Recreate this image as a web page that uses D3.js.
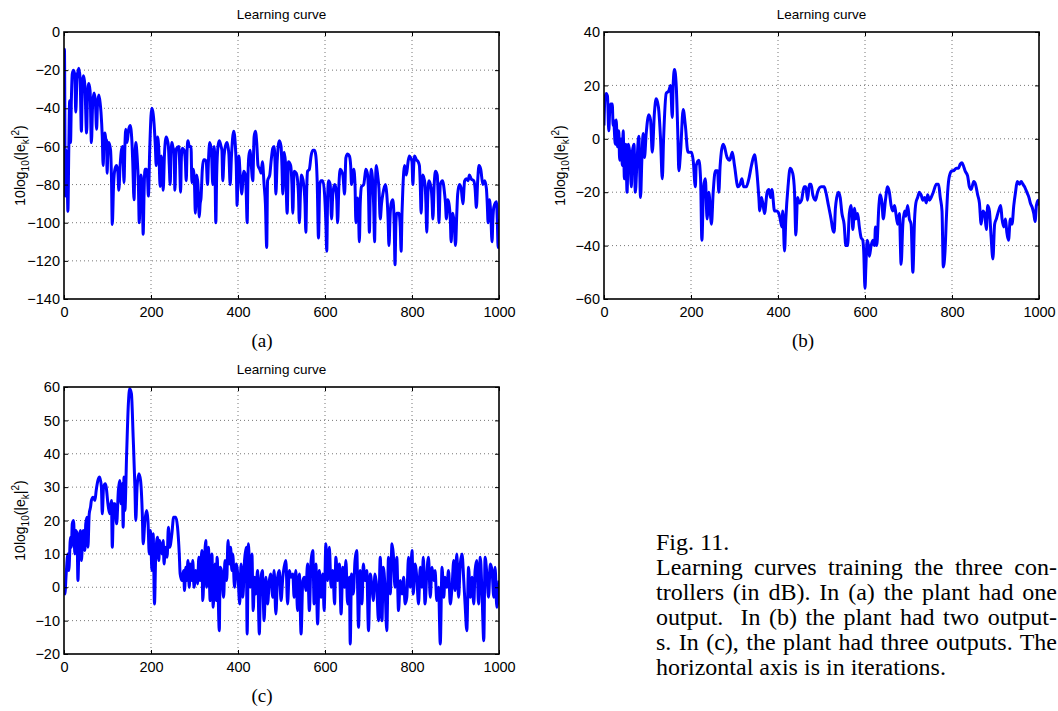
<!DOCTYPE html>
<html>
<head>
<meta charset="utf-8">
<script src="https://cdn.jsdelivr.net/npm/d3@7"></script>
<style>
    body { margin: 0; background: #fff; }
    svg { display: block; }
</style>
</head>
<body>
<div id="chart"></div>
<script>
// Learning curve data, [iteration, dB]
const curveA = [[0,-60],[1,-9],[3,-86],[5,-62],[7,-72],[9,-94],[11,-62],[13,-36],[15,-58],[17,-35],[19,-22],[22,-20],[25,-23],[27,-42],[30,-24],[34,-19],[37,-24],[40,-52],[42,-30],[45,-23],[48,-28],[52,-53],[54,-34],[57,-27],[60,-31],[63,-58],[66,-37],[69,-32],[72,-36],[75,-51],[77,-38],[80,-33],[83,-37],[85,-42],[88,-55],[90,-70],[92,-58],[94,-53],[96,-56],[98,-57],[99,-74],[101,-62],[103,-58],[107,-62],[109,-75],[111,-101],[114,-80],[117,-72],[121,-70],[124,-74],[126,-83],[129,-70],[132,-62],[135,-60],[138,-79],[140,-60],[142,-51],[145,-58],[148,-52],[152,-49],[156,-57],[158,-68],[161,-88],[163,-68],[165,-58],[168,-65],[171,-80],[173,-100],[175,-85],[177,-75],[180,-85],[182,-106],[184,-85],[186,-72],[190,-72],[192,-76],[194,-86],[197,-62],[200,-44],[202,-40],[205,-43],[207,-48],[210,-60],[212,-70],[214,-58],[215,-55],[218,-62],[221,-81],[224,-65],[226,-70],[228,-83],[231,-64],[235,-55],[238,-57],[240,-60],[242,-70],[244,-80],[246,-65],[248,-58],[251,-61],[253,-62],[255,-83],[257,-65],[259,-61],[264,-60],[266,-70],[268,-84],[270,-65],[272,-61],[276,-62],[279,-68],[281,-78],[283,-62],[285,-57],[288,-60],[292,-60],[294,-79],[297,-72],[300,-80],[302,-95],[305,-75],[308,-80],[311,-97],[313,-90],[315,-87],[318,-72],[321,-67],[324,-67],[327,-68],[330,-80],[332,-68],[335,-58],[339,-63],[342,-80],[345,-60],[347,-70],[349,-100],[351,-75],[354,-60],[357,-57],[361,-60],[363,-62],[365,-78],[368,-65],[371,-60],[375,-58],[379,-64],[382,-80],[385,-65],[390,-52],[394,-60],[396,-70],[398,-91],[400,-72],[402,-65],[405,-75],[409,-85],[411,-78],[413,-73],[417,-75],[419,-85],[421,-100],[423,-75],[425,-65],[428,-62],[430,-68],[434,-78],[437,-55],[440,-52],[443,-58],[446,-70],[450,-72],[453,-74],[456,-68],[460,-80],[463,-90],[466,-113],[468,-78],[473,-75],[476,-68],[480,-61],[483,-60],[485,-68],[487,-85],[490,-68],[495,-57],[499,-60],[501,-70],[503,-85],[506,-63],[509,-68],[513,-95],[516,-68],[521,-70],[524,-80],[526,-95],[529,-73],[534,-74],[536,-76],[539,-85],[541,-100],[544,-82],[546,-75],[551,-80],[554,-90],[556,-105],[558,-82],[560,-73],[564,-72],[568,-65],[572,-62],[576,-62],[579,-65],[582,-78],[585,-108],[588,-80],[591,-78],[595,-78],[599,-85],[602,-100],[604,-115],[606,-88],[608,-78],[612,-80],[615,-98],[618,-85],[622,-80],[625,-82],[627,-88],[629,-100],[632,-80],[635,-72],[641,-75],[645,-85],[648,-66],[652,-64],[656,-65],[659,-70],[661,-80],[664,-75],[666,-72],[669,-80],[671,-100],[673,-88],[675,-87],[677,-95],[679,-110],[681,-90],[684,-81],[689,-80],[692,-75],[694,-72],[698,-75],[700,-85],[702,-105],[704,-85],[706,-72],[710,-80],[712,-92],[714,-110],[716,-80],[718,-70],[721,-75],[724,-82],[727,-98],[730,-90],[733,-85],[739,-80],[742,-85],[745,-98],[747,-112],[750,-95],[752,-90],[756,-88],[759,-100],[761,-122],[763,-100],[765,-95],[770,-95],[773,-102],[775,-115],[777,-95],[779,-82],[783,-70],[787,-75],[791,-68],[794,-65],[797,-66],[800,-68],[802,-80],[804,-70],[806,-65],[810,-67],[814,-68],[817,-70],[819,-80],[821,-95],[823,-82],[825,-75],[830,-80],[832,-90],[834,-105],[836,-88],[839,-78],[844,-82],[846,-88],[848,-98],[851,-80],[854,-73],[858,-75],[860,-85],[862,-100],[865,-80],[870,-78],[875,-85],[877,-90],[879,-98],[882,-88],[885,-90],[888,-98],[890,-110],[892,-100],[894,-95],[897,-100],[900,-112],[903,-95],[905,-85],[909,-80],[913,-82],[917,-90],[921,-78],[925,-77],[929,-78],[932,-75],[936,-77],[942,-78],[945,-82],[948,-92],[951,-78],[954,-70],[958,-72],[963,-80],[967,-78],[971,-82],[973,-90],[975,-100],[978,-88],[981,-95],[984,-110],[986,-98],[988,-92],[994,-89],[996,-98],[998,-113],[1000,-98]];

const curveB = [[0,5],[2,15],[5,17],[8,16],[11,3],[13,10],[15,13],[19,13],[21,5],[22,7],[26,-2],[28,7],[31,-3],[34,3],[36,-8],[40,0],[42,-10],[44,3],[47,-15],[50,-2],[53,-20],[56,-2],[59,-5],[63,-18],[65,-5],[69,-2],[72,-20],[76,-8],[80,1],[84,-22],[87,-8],[90,2],[93,-7],[97,2],[103,9],[107,7],[111,-5],[116,10],[120,15],[125,12],[130,0],[134,-15],[137,0],[143,17],[149,18],[153,20],[157,8],[159,20],[162,26],[166,20],[170,0],[172,-12],[176,-5],[182,11],[187,5],[193,-5],[201,-5],[205,-8],[210,-18],[212,-10],[218,-8],[222,-15],[225,-38],[229,-18],[233,-15],[237,-30],[241,-20],[247,-32],[251,-20],[256,-12],[261,-12],[264,-20],[267,-10],[274,-2],[277,-3],[283,-7],[289,-8],[295,-5],[300,-10],[308,-18],[313,-17],[317,-15],[321,-18],[327,-18],[333,-15],[339,-10],[346,-6],[350,-10],[356,-22],[358,-27],[362,-22],[365,-24],[369,-28],[375,-20],[379,-19],[383,-22],[386,-19],[392,-27],[397,-27],[402,-28],[405,-30],[409,-33],[411,-27],[415,-42],[418,-30],[423,-18],[428,-11],[434,-13],[438,-20],[441,-36],[445,-22],[449,-24],[454,-23],[460,-18],[464,-18],[468,-23],[472,-17],[476,-17],[480,-21],[486,-23],[491,-20],[499,-18],[506,-18],[510,-20],[516,-25],[522,-30],[526,-34],[529,-35],[532,-26],[535,-22],[539,-20],[543,-22],[547,-28],[552,-32],[556,-40],[560,-40],[564,-28],[568,-25],[570,-28],[572,-34],[576,-26],[579,-30],[583,-28],[587,-33],[591,-37],[595,-38],[597,-42],[600,-56],[602,-48],[605,-38],[608,-40],[610,-44],[614,-40],[618,-38],[622,-40],[624,-33],[627,-40],[632,-25],[635,-21],[639,-24],[642,-30],[647,-23],[652,-18],[656,-20],[660,-25],[664,-27],[668,-25],[671,-28],[675,-32],[679,-28],[683,-47],[687,-32],[691,-27],[694,-29],[698,-25],[702,-30],[706,-32],[710,-50],[714,-30],[717,-24],[721,-22],[725,-20],[729,-21],[733,-23],[737,-22],[741,-24],[744,-21],[748,-23],[752,-22],[757,-20],[764,-17],[769,-17],[773,-22],[777,-27],[780,-48],[784,-42],[787,-30],[790,-20],[794,-14],[800,-12],[803,-12],[810,-11],[815,-11],[819,-9.5],[823,-9],[826,-10],[830,-12],[836,-14],[840,-18],[844,-19],[850,-16],[854,-17],[859,-21],[863,-24],[867,-32],[871,-27],[875,-28],[879,-34],[882,-25],[886,-27],[890,-37],[894,-45],[898,-32],[902,-30],[907,-27],[912,-25],[915,-30],[919,-33],[923,-30],[926,-35],[930,-38],[934,-30],[938,-32],[942,-25],[946,-20],[950,-16],[955,-17],[959,-16],[963,-17],[967,-18],[972,-20],[977,-22],[980,-24],[985,-26],[988,-28],[991,-31],[994,-25],[998,-23],[1000,-25]];

const curveC = [[0,0],[2,-2],[5,4],[9,10],[11,5],[15,15],[17,12],[19,19],[22,20],[25,10],[27,17],[30,16],[32,2],[35,15],[38,17],[40,8],[44,17],[48,11],[50,19],[53,21],[55,12],[58,22],[61,24],[63,26],[67,27],[71,26],[74,29],[78,32],[82,33],[86,30],[88,22],[91,30],[95,31],[97,30],[101,25],[105,22],[109,26],[111,12],[114,25],[117,25],[121,19],[125,29],[128,32],[131,25],[134,31],[136,18],[138,33],[140,23],[144,40],[148,55],[151,59.5],[155,58],[159,45],[163,30],[165,20],[168,30],[172,34],[176,32],[180,22],[182,13],[186,20],[190,23],[193,20],[196,10],[199,17],[202,5],[205,16],[208,-5],[211,10],[215,15],[218,8],[220,14],[225,10],[228,14],[230,7],[233,12],[237,9],[240,18],[243,12],[248,16],[252,21],[257,21],[261,18],[265,10],[267,4],[271,2],[275,5],[277,-1],[280,6],[282,2],[285,8],[288,0],[290,7],[294,2],[296,8],[299,0],[303,5],[307,1],[310,9],[313,2],[317,11],[319,-4],[322,5],[326,14],[328,0],[332,12],[336,-4],[340,10],[343,-6],[347,7],[350,-4],[352,9],[357,-13],[359,6],[362,5],[367,-3],[370,8],[374,2],[377,14],[380,7],[383,12],[386,5],[388,10],[392,0],[396,7],[400,3],[404,-5],[407,7],[411,-3],[415,8],[419,12],[421,-14],[424,13],[428,0],[432,10],[435,-7],[438,3],[441,-2],[445,5],[449,-14],[452,2],[456,5],[460,-10],[464,3],[468,-5],[472,2],[475,4],[480,-3],[483,5],[487,-8],[491,3],[495,5],[499,-4],[503,3],[506,6],[510,8],[514,-5],[518,5],[522,3],[526,4],[529,-3],[533,5],[537,-7],[541,4],[545,-14],[549,2],[553,3],[556,-1],[560,7],[564,-7],[568,8],[572,11],[575,-5],[579,7],[583,-11],[587,5],[591,-3],[595,4],[598,-7],[602,13],[606,2],[610,12],[614,0],[618,5],[622,-5],[625,9],[629,2],[633,7],[637,-8],[641,6],[645,0],[648,8],[652,-5],[656,3],[658,-17],[661,4],[665,-2],[669,8],[673,11],[677,-12],[681,5],[685,-5],[688,7],[692,2],[696,5],[700,-13],[704,4],[708,0],[711,-4],[715,4],[719,0],[723,-10],[727,9],[731,-10],[734,6],[738,0],[742,-13],[746,9],[750,-2],[754,13],[757,10],[761,0],[765,9],[769,-7],[773,2],[777,-2],[781,3],[784,-5],[788,-3],[792,9],[796,0],[800,11],[803,-2],[807,7],[811,3],[815,-5],[819,6],[823,0],[826,9],[830,-5],[834,4],[838,9],[842,-3],[846,6],[850,2],[853,5],[857,-4],[861,0],[865,-17],[869,6],[873,-3],[876,3],[880,0],[884,5],[888,-5],[892,0],[896,8],[899,-1],[903,10],[907,-3],[911,7],[915,10],[919,2],[922,-5],[926,-13],[930,6],[934,-3],[938,3],[942,-5],[945,5],[949,8],[953,-5],[957,9],[961,-2],[965,-16],[968,9],[972,4],[976,-3],[980,7],[984,5],[988,-3],[991,6],[995,-6],[1000,2]];

// Tick values
const xTicks = [0, 200, 400, 600, 800, 1000];
const yTicksA = [0, -20, -40, -60, -80, -100, -120, -140];
const yTicksB = [40, 20, 0, -20, -40, -60];
const yTicksC = [60, 50, 40, 30, 20, 10, 0, -10, -20];

const captionLines = [
    'Learning curves training the three con-',
    'trollers (in dB). In (a) the plant had one',
    'output.  In (b) the plant had two output-',
    's. In (c), the plant had three outputs. The',
    'horizontal axis is in iterations.'
];

const W = 1058, H = 711;
const sans = '"Liberation Sans", Arial, Helvetica, sans-serif';
const serif = '"Liberation Serif", "Times New Roman", serif';

const svg = d3.select('#chart').append('svg')
    .attr('width', W)
    .attr('height', H);

// Panel boxes in pixels
const panels = [
    { id: 'a', left: 64, top: 32, width: 435, height: 267, data: curveA, yTicks: yTicksA, label: '(a)', labelX: 262 },
    { id: 'b', left: 604, top: 32, width: 435, height: 267, data: curveB, yTicks: yTicksB, label: '(b)', labelX: 803 },
    { id: 'c', left: 64, top: 387, width: 435, height: 267, data: curveC, yTicks: yTicksC, label: '(c)', labelX: 262 }
];

panels.forEach(drawPanel);

function drawPanel(p) {
    const x = d3.scaleLinear().domain([0, 1000]).range([0, p.width]);
    const y = d3.scaleLinear().domain(d3.extent(p.yTicks)).range([p.height, 0]);

    const g = svg.append('g').attr('transform', `translate(${p.left},${p.top})`);

    // dotted grid
    g.append('g').selectAll('line')
        .data(xTicks.slice(1, -1))
        .enter().append('line')
        .attr('x1', d => x(d)).attr('x2', d => x(d))
        .attr('y1', 0).attr('y2', p.height)
        .attr('stroke', '#777').attr('stroke-width', 1)
        .attr('stroke-dasharray', '1,3');
    g.append('g').selectAll('line')
        .data(p.yTicks.filter(d => d !== y.domain()[0] && d !== y.domain()[1]))
        .enter().append('line')
        .attr('x1', 0).attr('x2', p.width)
        .attr('y1', d => y(d)).attr('y2', d => y(d))
        .attr('stroke', '#777').attr('stroke-width', 1)
        .attr('stroke-dasharray', '1,3');

    // clip so the thick line stays inside the box
    g.append('clipPath').attr('id', 'clip-' + p.id)
        .append('rect').attr('width', p.width).attr('height', p.height);

    const line = d3.line()
        .x(d => x(d[0]))
        .y(d => y(d[1]))
        .curve(d3.curveMonotoneX);

    g.append('path')
        .datum(p.data)
        .attr('clip-path', `url(#clip-${p.id})`)
        .attr('fill', 'none')
        .attr('stroke', '#0000ff')
        .attr('stroke-width', 3)
        .attr('stroke-linejoin', 'round')
        .attr('d', line);

    // axes with inward ticks on all four sides
    const bottom = g.append('g').attr('transform', `translate(0,${p.height})`)
        .call(d3.axisBottom(x).tickValues(xTicks).tickSize(-4).tickPadding(8).tickFormat(d3.format('d')));
    const left = g.append('g')
        .call(d3.axisLeft(y).tickValues(p.yTicks).tickSize(-4).tickPadding(4).tickFormat(d3.format('d')));
    const top = g.append('g')
        .call(d3.axisTop(x).tickValues(xTicks).tickSize(-4).tickFormat(''));
    const right = g.append('g').attr('transform', `translate(${p.width},0)`)
        .call(d3.axisRight(y).tickValues(p.yTicks).tickSize(-4).tickFormat(''));

    [bottom, left, top, right].forEach(a => {
        a.select('.domain').remove();
        a.selectAll('line').attr('stroke', '#000').attr('stroke-width', 1);
        a.selectAll('text')
            .attr('fill', '#000')
            .style('font-family', sans)
            .style('font-size', '14.5px');
    });

    // box frame
    g.append('rect')
        .attr('width', p.width).attr('height', p.height)
        .attr('fill', 'none').attr('stroke', '#000').attr('stroke-width', 1.6);

    // title
    g.append('text')
        .attr('x', p.width / 2).attr('y', -13)
        .attr('text-anchor', 'middle')
        .style('font-family', sans).style('font-size', '13.5px')
        .text('Learning curve');

    // y label: 10log10(|e_k|^2)
    const yl = g.append('text')
        .attr('transform', `translate(-39,${p.height / 2}) rotate(-90)`)
        .attr('text-anchor', 'middle')
        .style('font-family', sans).style('font-size', '14px');
    yl.append('tspan').text('10log');
    yl.append('tspan').attr('dy', 4).style('font-size', '10px').text('10');
    yl.append('tspan').attr('dy', -4).text('(|e');
    yl.append('tspan').attr('dy', 4).style('font-size', '10px').text('k');
    yl.append('tspan').attr('dy', -4).text('|');
    yl.append('tspan').attr('dy', -6).style('font-size', '10px').text('2');
    yl.append('tspan').attr('dy', 6).text(')');

    // panel label under the axes
    svg.append('text')
        .attr('x', p.labelX).attr('y', p.top + p.height + 48)
        .attr('text-anchor', 'middle')
        .style('font-family', serif).style('font-size', '19px')
        .text(p.label);
}

// Caption, justified like the paper column
const capLeft = 656, capRight = 1057, capSize = 24, capLead = 25;
svg.append('text')
    .attr('x', capLeft).attr('y', 550)
    .style('font-family', serif).style('font-size', capSize + 'px')
    .text('Fig. 11.');

captionLines.forEach((t, i) => {
    const el = svg.append('text')
        .attr('x', capLeft).attr('y', 575 + i * capLead)
        .style('font-family', serif).style('font-size', capSize + 'px')
        .style('white-space', 'pre')
        .text(t);
    if (i < captionLines.length - 1) {
        const spaces = (t.match(/ /g) || []).length;
        const w = el.node().getComputedTextLength();
        if (spaces > 0) el.style('word-spacing', ((capRight - capLeft - w) / spaces) + 'px');
    }
});
</script>
</body>
</html>
